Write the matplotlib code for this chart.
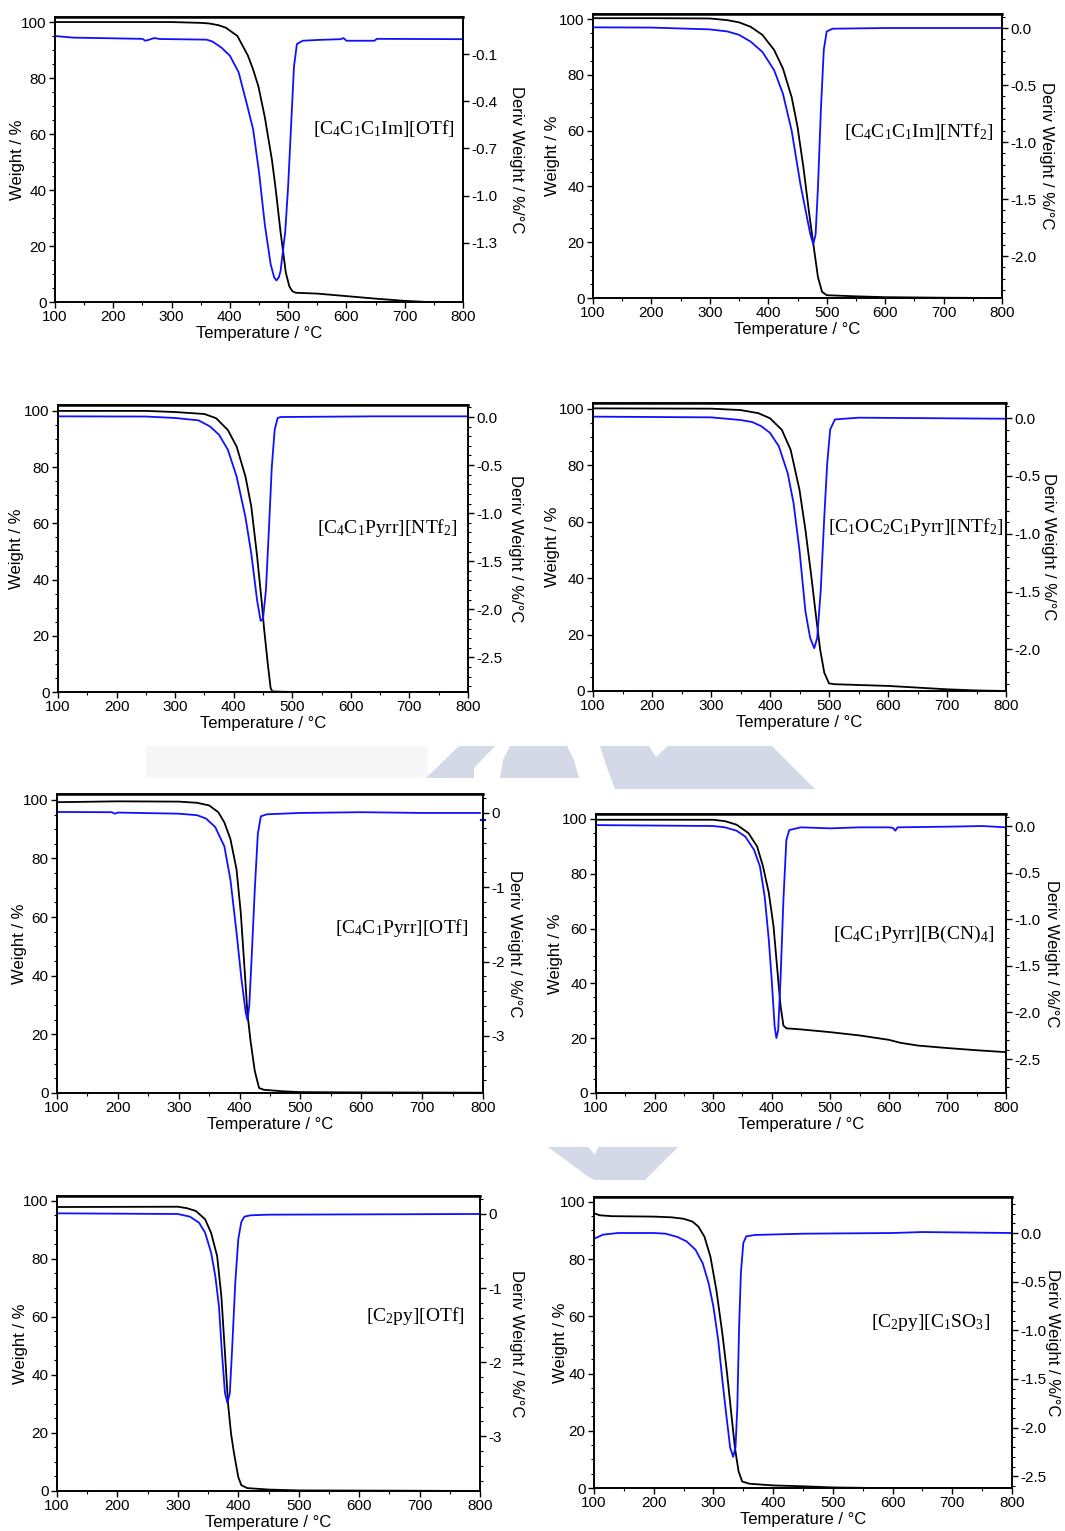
import numpy as np
import matplotlib
matplotlib.use("Agg")
import matplotlib.pyplot as plt
from matplotlib.ticker import AutoMinorLocator, NullLocator
from matplotlib.patches import Polygon, Rectangle

plt.rcParams['font.family'] = ['Liberation Sans', 'DejaVu Sans']
plt.rcParams['mathtext.fontset'] = 'custom'
plt.rcParams['mathtext.rm'] = 'Liberation Serif'
plt.rcParams['mathtext.it'] = 'Liberation Serif:italic'
plt.rcParams['axes.unicode_minus'] = False

# ---- data (temperature in C, weight in %, deriv in %/C)
# [C4C1C1Im][OTf]
t1_w = [100, 300, 350, 364, 380, 393, 413, 431, 440, 449, 460, 472, 478, 487, 496, 502, 507, 513, 550, 600,
        650, 700, 740, 800]
w1 = [100.0, 100.0, 99.7, 99.5, 98.9, 98.0, 95.0, 88.0, 83.0, 77.0, 66.0, 51.0, 41.4, 25.0, 10.5, 5.6, 3.9,
      3.3, 3.0, 2.1, 1.2, 0.4, 0.0, 0.0]
t1_d = [100, 130, 250, 255, 262, 270, 280, 360, 370, 385, 400, 415, 430, 440, 450, 460, 470, 476, 480, 484, 487,
        495, 500, 505, 510, 515, 525, 550, 590, 595, 600, 648, 652, 800]
d1 = [0.015, 0.005, -0.003, -0.015, -0.008, 0.002, -0.004, -0.008, -0.02, -0.057, -0.11, -0.215, -0.43, -0.58,
      -0.85, -1.185, -1.437, -1.52, -1.54, -1.52, -1.48, -1.23, -0.94, -0.56, -0.18, -0.036, -0.015, -0.01,
      -0.005, 0.002, -0.015, -0.015, -0.003, -0.005]

# [C4C1C1Im][NTf2]
t2_w = [100, 200, 300, 330, 350, 370, 390, 410, 425, 440, 450, 460, 470, 477, 485, 492, 500, 550, 600, 700, 800]
w2 = [100.3, 100.3, 100.2, 99.6, 98.8, 97.2, 94.3, 88.9, 82.3, 72.0, 61.4, 47.0, 30.3, 19.5, 7.5, 2.2, 1.0, 0.6, 0.3, 0.1, 0.0]
t2_d = [100, 200, 300, 330, 350, 370, 390, 410, 425, 440, 455, 465, 472, 477, 481, 485, 490, 495, 500, 510, 600, 800]
d2 = [0.006, 0.004, -0.012, -0.03, -0.06, -0.12, -0.21, -0.37, -0.575, -0.9, -1.37, -1.63, -1.81, -1.895,
      -1.81, -1.40, -0.72, -0.19, -0.03, -0.006, 0.0, 0.0]

# [C4C1Pyrr][NTf2]
t3_w = [100, 250, 300, 350, 370, 390, 405, 420, 430, 440, 448, 452, 458, 463, 466, 500, 800]
w3 = [100.0, 100.0, 99.6, 98.9, 97.4, 93.2, 87.3, 76.7, 66.0, 48.2, 31.6, 22.2, 10.3, 1.4, 0.2, 0.0, 0.0]
t3_d = [100, 250, 300, 340, 360, 375, 390, 405, 420, 430, 440, 446, 450, 455, 460, 465, 470, 475, 480, 640, 800]
d3 = [0.007, 0.005, -0.01, -0.035, -0.1, -0.185, -0.34, -0.62, -1.04, -1.42, -1.91, -2.12, -2.10, -1.8,
      -1.18, -0.52, -0.13, -0.01, 0.0, 0.007, 0.007]

# [C1OC2C1Pyrr][NTf2]
t4_w = [100, 300, 350, 380, 400, 420, 435, 450, 460, 470, 478, 485, 492, 500, 510, 600, 700, 750, 800]
w4 = [100.2, 100.1, 99.6, 98.5, 96.7, 92.6, 85.5, 71.3, 57.2, 40.7, 26.5, 14.7, 6.5, 2.7, 2.4, 1.8, 0.6, 0.2, 0.0]
t4_d = [100, 300, 350, 370, 385, 400, 415, 430, 440, 450, 460, 468, 475, 480, 486, 492, 497, 502, 510, 550, 800]
d4 = [0.012, 0.006, -0.017, -0.035, -0.07, -0.128, -0.244, -0.477, -0.738, -1.145, -1.67, -1.90, -1.99,
      -1.90, -1.49, -0.855, -0.39, -0.1, -0.012, 0.003, -0.006]

# [C4C1Pyrr][OTf]
t5_w = [100, 200, 300, 330, 350, 365, 375, 385, 395, 402, 408, 413, 418, 425, 432, 440, 470, 500, 600, 800]
w5 = [99.2, 99.5, 99.4, 99.0, 98.1, 95.8, 92.3, 86.6, 76.3, 61.4, 43.0, 27.0, 17.8, 7.5, 1.7, 1.1, 0.6, 0.3, 0.2, 0.1]
t5_d = [100, 190, 195, 200, 300, 330, 345, 360, 375, 385, 395, 403, 410, 413, 416, 420, 425, 430, 435, 445,
        500, 600, 700, 795]
d5 = [0.013, 0.01, -0.01, 0.005, -0.01, -0.03, -0.076, -0.19, -0.45, -0.9, -1.61, -2.23, -2.68, -2.79, -2.59,
      -1.92, -1.03, -0.28, -0.045, -0.018, 0.0, 0.01, 0.0, 0.0]
t5_mark = [797, 804]
d5_mark = [-0.10, -0.10]

# [C4C1Pyrr][B(CN)4]
t6_w = [100, 300, 320, 340, 360, 375, 385, 395, 403, 410, 415, 420, 425, 450, 500, 550, 600, 620, 650, 700, 750, 800]
w6 = [99.7, 99.7, 99.2, 97.9, 94.9, 90.0, 82.8, 73.1, 61.0, 44.0, 31.9, 24.6, 23.6, 23.2, 22.2, 21.0, 19.4,
      18.3, 17.3, 16.4, 15.6, 14.9]
t6_d = [100, 200, 300, 320, 340, 355, 370, 380, 388, 395, 400, 405, 408, 411, 415, 420, 425, 430, 450, 500,
        550, 600, 607, 611, 615, 700, 760, 800]
d6 = [0.01, 0.005, 0.0, -0.014, -0.05, -0.114, -0.257, -0.436, -0.757, -1.22, -1.65, -2.15, -2.275, -2.19,
      -1.65, -0.79, -0.15, -0.043, -0.014, -0.025, -0.014, -0.014, -0.02, -0.05, -0.014, -0.007, 0.0, -0.014]

# [C2py][OTf]
t7_w = [100, 300, 315, 330, 345, 355, 365, 372, 378, 383, 388, 393, 400, 405, 415, 450, 500, 680, 800]
w7 = [97.9, 98.0, 97.5, 96.5, 93.7, 89.0, 81.0, 67.1, 47.5, 30.2, 19.8, 12.9, 4.8, 2.0, 1.0, 0.5, 0.2, 0.1, 0.0]
t7_d = [100, 300, 320, 335, 345, 355, 362, 368, 373, 378, 382, 386, 390, 395, 400, 405, 410, 420, 450, 800]
d7 = [0.009, 0.0, -0.036, -0.117, -0.25, -0.52, -0.84, -1.245, -1.88, -2.42, -2.55, -2.42, -1.79, -0.93,
      -0.34, -0.108, -0.036, -0.018, -0.009, 0.0]

# [C2py][C1SO3]
t8_w = [100, 110, 130, 200, 230, 250, 265, 275, 285, 295, 305, 315, 323, 330, 336, 342, 348, 360, 400, 450,
        500, 570, 800]
w8 = [96.0, 95.3, 95.0, 94.85, 94.6, 94.1, 93.1, 91.3, 87.8, 80.8, 69.1, 53.9, 39.8, 25.8, 14.1, 5.9, 2.3,
      1.5, 0.9, 0.6, 0.2, 0.0, 0.0]
t8_d = [100, 115, 140, 200, 220, 240, 255, 270, 282, 292, 300, 308, 315, 322, 328, 333, 337, 340, 343, 346,
        350, 355, 370, 450, 600, 650, 800]
d8 = [-0.059, -0.017, 0.0, 0.0, -0.007, -0.041, -0.086, -0.172, -0.31, -0.517, -0.758, -1.10, -1.515, -1.894,
      -2.204, -2.30, -2.20, -1.79, -0.964, -0.413, -0.103, -0.034, -0.02, -0.007, 0.0, 0.01, 0.0]

def s(n):
    return r'$_{\mathrm{%s}}$' % n

names = ['[C' + s(4) + 'C' + s(1) + 'C' + s(1) + 'Im][OTf]',
         '[C' + s(4) + 'C' + s(1) + 'C' + s(1) + 'Im][NTf' + s(2) + ']',
         '[C' + s(4) + 'C' + s(1) + 'Pyrr][NTf' + s(2) + ']',
         '[C' + s(1) + 'OC' + s(2) + 'C' + s(1) + 'Pyrr][NTf' + s(2) + ']',
         '[C' + s(4) + 'C' + s(1) + 'Pyrr][OTf]',
         '[C' + s(4) + 'C' + s(1) + 'Pyrr][B(CN)' + s(4) + ']',
         '[C' + s(2) + 'py][OTf]',
         '[C' + s(2) + 'py][C' + s(1) + 'SO' + s(3) + ']']

deriv_ticks = [[-0.1, -0.4, -0.7, -1.0, -1.3],
               [0.0, -0.5, -1.0, -1.5, -2.0],
               [0.0, -0.5, -1.0, -1.5, -2.0, -2.5],
               [0.0, -0.5, -1.0, -1.5, -2.0],
               [0, -1, -2, -3],
               [0.0, -0.5, -1.0, -1.5, -2.0, -2.5],
               [0, -1, -2, -3],
               [0.0, -0.5, -1.0, -1.5, -2.0, -2.5]]
deriv_fmt = ['%.1f', '%.1f', '%.1f', '%.1f', '%d', '%.1f', '%d', '%.1f']

temps_w = [t1_w, t2_w, t3_w, t4_w, t5_w, t6_w, t7_w, t8_w]
weights = [w1, w2, w3, w4, w5, w6, w7, w8]
temps_d = [t1_d, t2_d, t3_d, t4_d, t5_d, t6_d, t7_d, t8_d]
derivs = [d1, d2, d3, d4, d5, d6, d7, d8]

# ---- layout (pixel boxes of each plot frame) and per-panel axis settings
W, H = 1065, 1531
boxes = [(55, 17, 463, 302), (593, 14, 1002, 298), (58, 405, 468, 692), (593, 403, 1006, 691),
         (57, 794, 483, 1093), (596, 814, 1006, 1093), (57, 1196, 480, 1491), (594, 1197, 1012, 1488)]
wlims = [101.8, 101.8, 102.1, 102.1, 102.0, 101.8, 101.7, 101.7]
dlims = [(-1.677, 0.136), (-2.368, 0.123), (-2.86, 0.125), (-2.36, 0.13),
         (-3.77, 0.255), (-2.864, 0.129), (-3.74, 0.243), (-2.62, 0.37)]
name_pos = [(664, 62), (658, 59.8), (662, 58.4), (647, 58.2), (667, 56.3), (643, 58), (694, 60.3), (663, 57.7)]
left_lab = [-0.092, -0.098, -0.10, -0.097, -0.087, -0.098, -0.087, -0.081]
right_lab = [1.13, 1.11, 1.117, 1.104, 1.075, 1.112, 1.087, 1.096]

fig = plt.figure(figsize=(W / 100, H / 100), dpi=100)

# faint watermark shapes behind the panels
bg = fig.add_axes([0, 0, 1, 1], zorder=-5)
bg.set_xlim(0, W)
bg.set_ylim(H, 0)
bg.axis('off')
wm = '#d4d9e7'
bg.add_patch(Rectangle((146, 746), 282, 32, color='#f7f7f7', lw=0))
bg.add_patch(Polygon([(426, 778), (459, 746), (495, 746), (474, 768), (474, 778)], color=wm, lw=0))
bg.add_patch(Polygon([(500, 778), (503, 760), (510, 746), (567, 746), (574, 760), (579, 778)], color=wm, lw=0))
bg.add_patch(Polygon([(600, 746), (649, 746), (656, 757), (668, 746), (772, 746), (815, 789), (615, 789),
                      (606, 765)], color=wm, lw=0))
bg.add_patch(Polygon([(548, 1147), (588, 1147), (595, 1155), (598, 1147), (678, 1147), (645, 1180),
                      (595, 1180), (590, 1178)], color=wm, lw=0))

for i in range(8):
    x0, y0, x1, y1 = boxes[i]
    ax = fig.add_axes([x0 / W, 1 - y1 / H, (x1 - x0) / W, (y1 - y0) / H])
    ax2 = ax.twinx()
    ax.plot(temps_w[i], weights[i], color='black', lw=1.3, zorder=3)
    ax2.plot(temps_d[i], derivs[i], color='#1010ff', lw=1.3)
    if i == 4:
        ax2.plot(t5_mark, d5_mark, color='#1010ff', lw=1.6, clip_on=False)

    ax.set_xlim(100, 800)
    ax.set_ylim(0, wlims[i])
    ax.set_xticks(range(100, 801, 100))
    ax.set_yticks(range(0, 101, 20))
    ax.xaxis.set_minor_locator(AutoMinorLocator(2))
    ax.yaxis.set_minor_locator(AutoMinorLocator(4))
    ax2.set_ylim(*dlims[i])
    ax2.set_yticks(deriv_ticks[i])
    ax2.set_yticklabels([deriv_fmt[i] % v for v in deriv_ticks[i]])
    if i == 0:
        ax2.yaxis.set_minor_locator(NullLocator())
    else:
        ax2.yaxis.set_minor_locator(AutoMinorLocator(5))

    for a in (ax, ax2):
        a.tick_params(which='major', direction='out', length=4, width=1, labelsize=11, pad=2)
        a.tick_params(which='minor', direction='out', length=2, width=0.8)
        for sp in a.spines.values():
            sp.set_linewidth(1.2)
    ax.spines['top'].set_linewidth(1.8)

    ax.set_xlabel('Temperature / °C', fontsize=12, labelpad=1)
    ax.set_ylabel('Weight / %', fontsize=12, va='center')
    ax.yaxis.set_label_coords(left_lab[i], 0.5)
    ax2.set_ylabel('Deriv Weight / %/°C', fontsize=12, rotation=270, va='center')
    ax2.yaxis.set_label_coords(right_lab[i], 0.5)

    ax.text(name_pos[i][0], name_pos[i][1], names[i], family='Liberation Serif', fontsize=14,
            ha='center', va='center', zorder=5)

fig.savefig('out.png', dpi=100)
